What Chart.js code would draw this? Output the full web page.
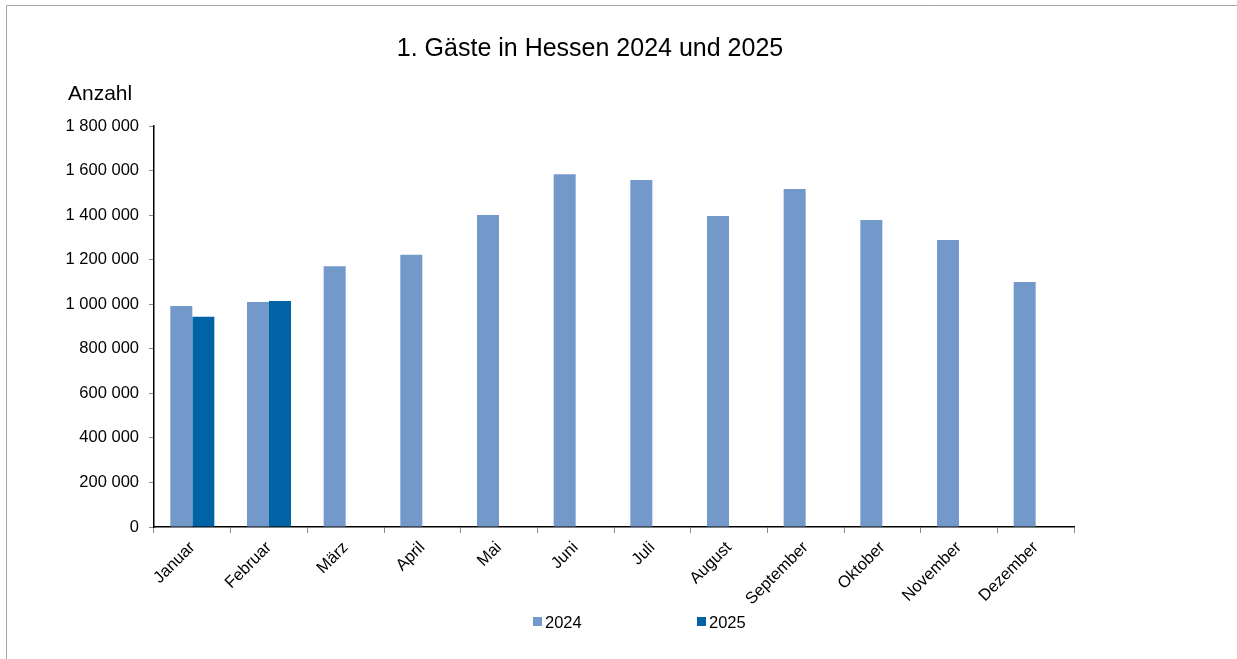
<!DOCTYPE html>
<html>
<head>
<meta charset="utf-8">
<style>
  html, body { margin: 0; padding: 0; background: #fff; }
  #wrap { position: relative; width: 1237px; height: 659px; }
</style>
<script src="https://cdn.jsdelivr.net/npm/chart.js@4"></script>
</head>
<body>
<div id="wrap"><canvas id="c" width="1237" height="659"></canvas></div>
<script>
const title = "1. Gäste in Hessen 2024 und 2025";
const yAxisTitle = "Anzahl";
const categories = ["Januar","Februar","März","April","Mai","Juni","Juli","August","September","Oktober","November","Dezember"];
const seriesNames = ["2024", "2025"];
const values2024 = [992000, 1010000, 1171000, 1222000, 1400000, 1583000, 1558000, 1396000, 1517000, 1378000, 1288000, 1100000];
const values2025 = [944000, 1014000, null, null, null, null, null, null, null, null, null, null];
const yMin = 0, yMax = 1800000, yStep = 200000;
const colors = ["#7399ca", "#0063a6"];

const FONT = "'Liberation Sans', Arial, sans-serif";

function fmt(v) {
  return String(Math.round(v)).replace(/\B(?=(\d{3})+(?!\d))/g, " ");
}

const decorPlugin = {
  id: 'decor',
  beforeDraw(chart) {
    const ctx = chart.ctx;
    ctx.save();
    ctx.fillStyle = '#ffffff';
    ctx.fillRect(0, 0, chart.width, chart.height);
    ctx.strokeStyle = '#a6a6a6';
    ctx.lineWidth = 1;
    ctx.beginPath();
    ctx.moveTo(6.5, chart.height);
    ctx.lineTo(6.5, 5.5);
    ctx.lineTo(chart.width, 5.5);
    ctx.stroke();
    ctx.restore();
  },
  afterDraw(chart) {
    const ctx = chart.ctx;
    ctx.save();
    ctx.fillStyle = '#000';
    ctx.textBaseline = 'alphabetic';
    // title
    ctx.font = "25px " + FONT;
    ctx.textAlign = 'center';
    ctx.fillText(title, 590, 56);
    // y axis title
    ctx.font = "21px " + FONT;
    ctx.textAlign = 'left';
    ctx.fillText(yAxisTitle, 68, 100);
    // legend
    ctx.font = "16.5px " + FONT;
    const xs = [533, 697];
    chart.data.datasets.forEach((ds, i) => {
      ctx.fillStyle = ds.backgroundColor;
      ctx.fillRect(xs[i], 617, 9, 9);
      ctx.fillStyle = '#000';
      ctx.fillText(ds.label, xs[i] + 12, 628);
    });
    ctx.restore();
  }
};

new Chart(document.getElementById('c'), {
  type: 'bar',
  data: {
    labels: categories,
    datasets: [
      { label: seriesNames[0], data: values2024, backgroundColor: colors[0], categoryPercentage: 0.574, barPercentage: 1.0 },
      { label: seriesNames[1], data: values2025, backgroundColor: colors[1], categoryPercentage: 0.574, barPercentage: 1.0 }
    ]
  },
  options: {
    responsive: false,
    animation: false,
    devicePixelRatio: 1,
    layout: { padding: { top: 126, right: 163, bottom: 0, left: 0 } },
    plugins: {
      legend: { display: false },
      title: { display: false },
      tooltip: { enabled: false }
    },
    scales: {
      x: {
        grid: { display: true, drawOnChartArea: false, offset: true, color: '#8c8c8c', tickLength: 6 },
        border: { display: true, color: '#000', width: 1.5 },
        ticks: {
          color: '#000', font: { family: FONT, size: 16.5 },
          maxRotation: 45, minRotation: 45, padding: 5, autoSkip: false
        },
        afterFit(scale) { scale.height = 132; }
      },
      y: {
        min: yMin, max: yMax,
        grid: { display: true, drawOnChartArea: false, color: '#8c8c8c', tickLength: 5 },
        border: { display: true, color: '#000', width: 1.5 },
        ticks: {
          stepSize: yStep, color: '#000', font: { family: FONT, size: 16.5 }, padding: 10,
          callback: (v) => fmt(v)
        },
        afterFit(scale) { scale.width = 154; }
      }
    }
  },
  plugins: [decorPlugin]
});
</script>
</body>
</html>
